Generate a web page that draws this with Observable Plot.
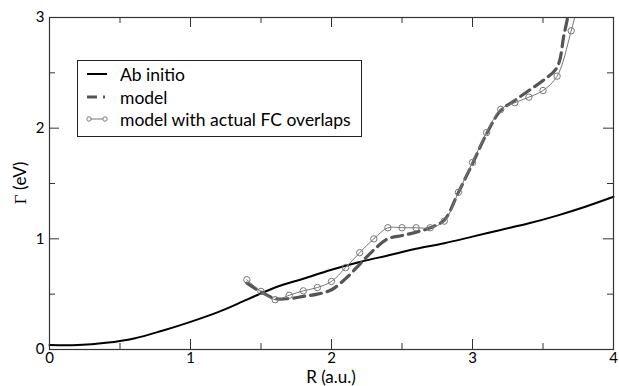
<!DOCTYPE html>
<html><head><meta charset="utf-8">
<script src="https://cdn.jsdelivr.net/npm/d3@7"></script>
<script src="https://cdn.jsdelivr.net/npm/@observablehq/plot@0.6"></script>
<style>
body{margin:0;background:#fff}
#c{position:relative;width:619px;height:386px;font-family:Lato,sans-serif}
#legend{position:absolute;left:77px;top:60px;width:285px;height:77px;border:1px solid #222;box-sizing:border-box;background:#fff;font-size:17.5px;color:#000}
#legend .row{position:absolute;left:0;height:22px;display:flex;align-items:center;white-space:nowrap}
#legend svg{margin-left:8px;margin-right:12px}
.axlab{position:absolute;font-size:17px;color:#000;white-space:nowrap;line-height:1}
</style></head><body><div id="c"></div>
<script>
// Ab initio curve
const abR = [0, 0.2, 0.4, 0.6, 0.8, 1.0, 1.2, 1.4, 1.6, 1.8, 2.0, 2.2, 2.4, 2.6, 2.8, 3.0, 3.2, 3.4, 3.6, 3.8, 4.0];
const abG = [0.04, 0.04, 0.06, 0.10, 0.17, 0.25, 0.34, 0.45, 0.56, 0.64, 0.72, 0.79, 0.85, 0.91, 0.96, 1.02, 1.08, 1.14, 1.21, 1.29, 1.38];
// model (dashed)
const mdR = [1.4, 1.5, 1.6, 1.7, 1.8, 1.9, 2.0, 2.1, 2.2, 2.3, 2.4, 2.5, 2.6, 2.7, 2.8, 2.9, 3.0, 3.1, 3.2, 3.3, 3.4, 3.5, 3.6, 3.65, 3.7];
const mdG = [0.60, 0.52, 0.46, 0.46, 0.48, 0.50, 0.54, 0.64, 0.77, 0.90, 1.00, 1.03, 1.06, 1.10, 1.17, 1.42, 1.68, 1.95, 2.16, 2.25, 2.34, 2.43, 2.55, 2.85, 3.15];
// model with actual FC overlaps (circles)
const fcR = [1.4, 1.5, 1.6, 1.7, 1.8, 1.9, 2.0, 2.1, 2.2, 2.3, 2.4, 2.5, 2.6, 2.7, 2.8, 2.9, 3.0, 3.1, 3.2, 3.3, 3.4, 3.5, 3.6, 3.7, 3.8];
const fcG = [0.63, 0.525, 0.45, 0.49, 0.53, 0.56, 0.615, 0.74, 0.875, 1.00, 1.10, 1.10, 1.10, 1.10, 1.16, 1.42, 1.69, 1.96, 2.17, 2.23, 2.28, 2.34, 2.47, 2.88, 3.4];
const fcShown = 24; // circles visible up to R = 3.7
const xMajor = [0, 1, 2, 3, 4];
const xMinor = [0.5, 1.5, 2.5, 3.5];
const yMajor = [0, 1, 2, 3];
const yMinor = [0.5, 1.5, 2.5];
const legendLabels = ["Ab initio", "model", "model with actual FC overlaps"];
const xLabel = "R (a.u.)";
const yLabel = "Γ (eV)";

const ab = abR.map((r, i) => ({r, g: abG[i]}));
const md = mdR.map((r, i) => ({r, g: mdG[i]}));
const fc = fcR.map((r, i) => ({r, g: fcG[i]}));

const W = 619, H = 386, mL = 49, mR = 6, mT = 17, mB = 37;
const iw = W - mL - mR, ih = H - mT - mB;
const MJ = 10, MN = 6;
const axc = "#333";

const chart = Plot.plot({
  width: W, height: H,
  marginLeft: mL, marginRight: mR, marginTop: mT, marginBottom: mB,
  style: {fontFamily: "Lato, sans-serif", fontSize: "15px", color: "#000", background: "#fff"},
  x: {domain: [0, 4], ticks: xMajor, tickSize: 0, tickPadding: 3, tickFormat: d => String(d), label: null},
  y: {domain: [0, 3], ticks: yMajor, tickSize: 0, tickPadding: 5, tickFormat: d => String(d), label: null},
  marks: [
    Plot.tickX(xMajor, {x: d => d, insetTop: ih - MJ, stroke: axc}),
    Plot.tickX(xMajor, {x: d => d, insetBottom: ih - MJ, stroke: axc}),
    Plot.tickX(xMinor, {x: d => d, insetTop: ih - MN, stroke: axc}),
    Plot.tickX(xMinor, {x: d => d, insetBottom: ih - MN, stroke: axc}),
    Plot.tickY(yMajor, {y: d => d, insetRight: iw - MJ, stroke: axc}),
    Plot.tickY(yMajor, {y: d => d, insetLeft: iw - MJ, stroke: axc}),
    Plot.tickY(yMinor, {y: d => d, insetRight: iw - MN, stroke: axc}),
    Plot.tickY(yMinor, {y: d => d, insetLeft: iw - MN, stroke: axc}),
    Plot.line(ab, {x: "r", y: "g", stroke: "#000", strokeWidth: 2, curve: "catmull-rom"}),
    Plot.line(md, {x: "r", y: "g", stroke: "#555", strokeWidth: 3.2, strokeDasharray: "11,6", curve: "catmull-rom", clip: true}),
    Plot.line(fc, {x: "r", y: "g", stroke: "#777", strokeWidth: 1, curve: "catmull-rom", clip: true}),
    Plot.dot(fc.slice(0, fcShown), {x: "r", y: "g", r: 3.2, stroke: "#777", strokeWidth: 1, fill: "none"}),
    Plot.frame({stroke: axc, strokeWidth: 1.2})
  ]
});
const c = document.getElementById("c");
c.appendChild(chart);

// axis titles
const xl = document.createElement("div");
xl.className = "axlab";
xl.textContent = xLabel;
xl.style.left = (mL + iw / 2) + "px";
xl.style.top = "368px";
xl.style.transform = "translateX(-50%)";
c.appendChild(xl);
const yl = document.createElement("div");
yl.className = "axlab";
yl.innerHTML = `<span style="font-family:'Liberation Serif',serif">Γ</span> (eV)`;
yl.style.left = "20px";
yl.style.top = "183px";
yl.style.transform = "translate(-50%,-50%) rotate(-90deg)";
c.appendChild(yl);

// legend
const lg = document.createElement("div");
lg.id = "legend";
const tops = [2, 25, 47];
const samples = [
  `<svg width="22" height="10"><line x1="1" x2="21" y1="5" y2="5" stroke="#000" stroke-width="2"/></svg>`,
  `<svg width="22" height="10"><line x1="1" x2="21" y1="5" y2="5" stroke="#555" stroke-width="3" stroke-dasharray="10,6,2,4"/></svg>`,
  `<svg width="22" height="10"><line x1="3" x2="19" y1="5" y2="5" stroke="#777" stroke-width="1"/><circle cx="3" cy="5" r="2.2" fill="#fff" stroke="#777"/><circle cx="19" cy="5" r="2.2" fill="#fff" stroke="#777"/></svg>`
];
legendLabels.forEach((t, i) => {
  const row = document.createElement("div");
  row.className = "row";
  row.style.top = tops[i] + "px";
  row.innerHTML = samples[i] + `<span>${t}</span>`;
  lg.appendChild(row);
});
c.appendChild(lg);
</script>
</body></html>
